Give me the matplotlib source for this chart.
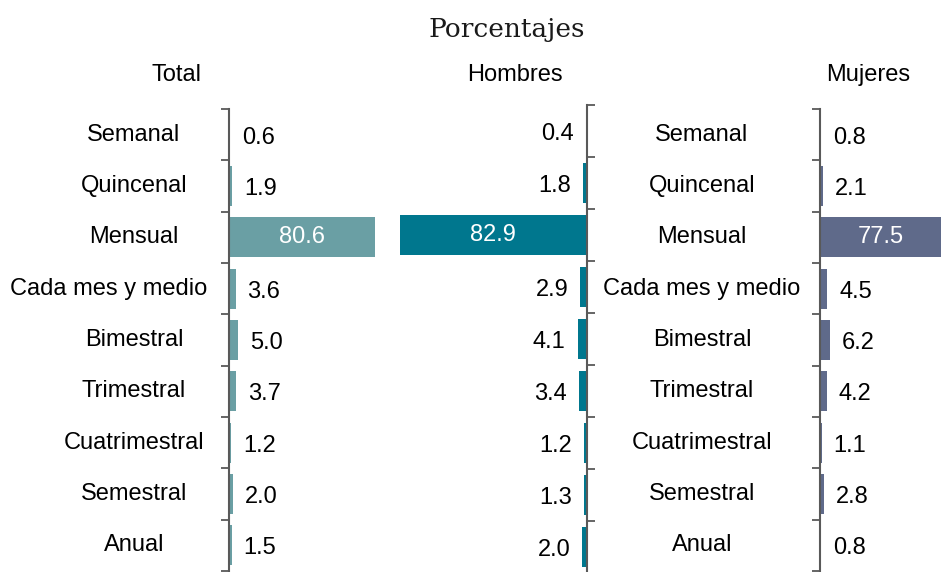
import numpy as np
import matplotlib
matplotlib.use('Agg')
import matplotlib.pyplot as plt
from matplotlib.transforms import blended_transform_factory as btf

categories = ["Semanal", "Quincenal", "Mensual", "Cada mes y medio", "Bimestral",
              "Trimestral", "Cuatrimestral", "Semestral", "Anual"]
total = [0.6, 1.9, 80.6, 3.6, 5.0, 3.7, 1.2, 2.0, 1.5]
hombres = [0.4, 1.8, 82.9, 2.9, 4.1, 3.4, 1.2, 1.3, 2.0]
mujeres = [0.8, 2.1, 77.5, 4.5, 6.2, 4.2, 1.1, 2.8, 0.8]
panel_titles = ["Total", "Hombres", "Mujeres"]
title = "Porcentajes"

plt.rcParams['font.family'] = ['Liberation Sans', 'DejaVu Sans']

W, H = 942, 572
fig = plt.figure(figsize=(W / 100, H / 100), dpi=100)

FS = 17
AXC = '#595959'


def add_ax(x0, x1, ytop, ybot):
    ax = fig.add_axes([x0 / W, 1 - ybot / H, (x1 - x0) / W, (ybot - ytop) / H])
    ax.patch.set_alpha(0)
    return ax


def style(ax, side):
    for s in ax.spines.values():
        s.set_visible(False)
    ax.spines[side].set_visible(True)
    ax.spines[side].set_color(AXC)
    ax.spines[side].set_linewidth(1.5)
    ax.set_ylim(len(categories) - 0.5, -0.5)
    ax.set_yticks(np.arange(-0.5, len(categories) + 0.5, 1))
    ax.set_yticklabels([])
    ax.set_xticks([])
    if side == 'right':
        ax.yaxis.tick_right()
    ax.tick_params(axis='y', direction='out', length=6, width=1.3, color=AXC)


def values(ax, vals, color, sign):
    y = np.arange(len(vals))
    ax.barh(y, vals, height=0.78, color=color)
    for yi, v in zip(y, vals):
        if v > 50:
            ax.text(v / 2, yi, f"{v:.1f}", ha='center', va='center', color='white', fontsize=FS)
        else:
            ax.annotate(f"{v:.1f}", xy=(v, yi), xytext=(12 * sign, -3), textcoords='offset pixels',
                        ha='left' if sign > 0 else 'right', va='center', fontsize=FS, color='black')


# Total panel
ax1 = add_ax(229, 429, 109, 571)
ax1.set_xlim(0, 200 / 1.81)
style(ax1, 'left')
values(ax1, total, '#6A9FA4', 1)

# Hombres panel
ax2 = add_ax(387, 587, 105, 573)
ax2.set_xlim(200 / 2.26, 0)
style(ax2, 'right')
values(ax2, hombres, '#00778E', -1)

# Mujeres panel
ax3 = add_ax(820, 942, 109, 571)
ax3.set_xlim(0, 122 / 1.56)
style(ax3, 'left')
values(ax3, mujeres, '#5F6A8A', 1)

# Category labels
fig.canvas.draw()
renderer = fig.canvas.get_renderer()
for ax, cx, right_lim in [(ax1, 134, 207), (ax3, 702, 812)]:
    tr = btf(fig.transFigure, ax.transData)
    for i, c in enumerate(categories):
        t = fig.text(cx / W, i, c, transform=tr, ha='center', va='center', fontsize=FS)
        ext = t.get_window_extent(renderer)
        if ext.x1 > right_lim:
            t.set_x(right_lim / W)
            t.set_ha('right')

# Headers
for name, cx in zip(panel_titles, [176, 515, 868]):
    fig.text(cx / W, 1 - 75 / H, name, ha='center', va='center', fontsize=FS)

fig.text(507 / W, 1 - 30 / H, title, ha='center', va='center', fontsize=19,
         family=['DejaVu Serif'], color='#1a1a1a')

fig.savefig('out.png', dpi=100)
